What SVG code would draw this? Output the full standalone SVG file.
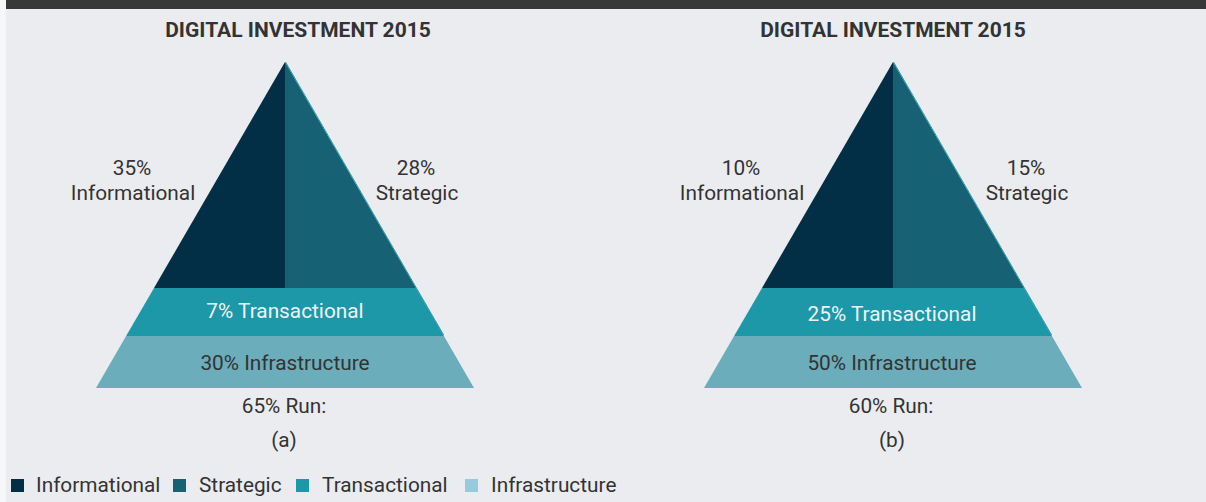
<svg xmlns="http://www.w3.org/2000/svg" width="1206" height="502" viewBox="0 0 1206 502">
  <style>
    text { font-family: Roboto, "Liberation Sans", sans-serif; fill: #333333; }
    .title { font-size: 21px; font-weight: bold; text-anchor: middle; }
    .lbl { font-size: 20.8px; text-anchor: middle; }
    .band { font-size: 20.8px; text-anchor: middle; }
    .light { fill: #eef4f6; }
    .leg { font-size: 20.8px; }
    .info { fill: #022f45; }
    .strat { fill: #166274; }
    .trans { fill: #1c98a8; }
    .infra { fill: #6badba; }
    .infra-key { fill: #95cbdc; }
    .edge { stroke: #1c98a8; stroke-width: 1; fill: none; }
  </style>

  <!-- page background, side strip and header bar -->
  <rect x="0" y="0" width="1206" height="502" fill="#ebecf0"/>
  <rect x="0" y="0" width="6" height="502" fill="#f7f7f9"/>
  <rect x="6" y="0" width="1200" height="9" fill="#383838"/>

  <!-- pyramid (a) -->
  <g id="pyramid-a">
    <text class="title" x="298" y="37">DIGITAL INVESTMENT 2015</text>
    <polygon class="info" points="285,62 285,288 154,288"/>
    <polygon class="strat" points="285,62 416,288 285,288"/>
    <polygon class="trans" points="154,288 416,288 443.9,336 126.1,336"/>
    <polygon class="infra" points="126.1,336 443.9,336 474,388 96,388"/>
    <line class="edge" x1="285.5" y1="62" x2="443.6" y2="335"/>
    <text class="lbl" x="132" y="175">35%</text>
    <text class="lbl" x="133" y="200">Informational</text>
    <text class="lbl" x="416" y="175">28%</text>
    <text class="lbl" x="417" y="200">Strategic</text>
    <text class="band light" x="285" y="318">7% Transactional</text>
    <text class="band" x="285" y="370">30% Infrastructure</text>
    <text class="lbl" x="284" y="413">65% Run:</text>
    <text class="lbl" x="284" y="447">(a)</text>
  </g>

  <!-- pyramid (b) -->
  <g id="pyramid-b">
    <text class="title" x="893" y="37">DIGITAL INVESTMENT 2015</text>
    <polygon class="info" points="893,62 893,288 762,288"/>
    <polygon class="strat" points="893,62 1024,288 893,288"/>
    <polygon class="trans" points="762,288 1024,288 1051.9,336 734.1,336"/>
    <polygon class="infra" points="734.1,336 1051.9,336 1082,388 704,388"/>
    <line class="edge" x1="893.5" y1="62" x2="1051.6" y2="335"/>
    <text class="lbl" x="741" y="175">10%</text>
    <text class="lbl" x="742" y="200">Informational</text>
    <text class="lbl" x="1026" y="175">15%</text>
    <text class="lbl" x="1027" y="200">Strategic</text>
    <text class="band light" x="892" y="321">25% Transactional</text>
    <text class="band" x="892" y="370">50% Infrastructure</text>
    <text class="lbl" x="891" y="413">60% Run:</text>
    <text class="lbl" x="892" y="447">(b)</text>
  </g>

  <!-- legend -->
  <g id="legend">
    <rect class="info" x="11" y="479" width="13" height="13"/>
    <text class="leg" x="36" y="492">Informational</text>
    <rect class="strat" x="173" y="479" width="13" height="13"/>
    <text class="leg" x="199" y="492">Strategic</text>
    <rect class="trans" x="296" y="479" width="13" height="13"/>
    <text class="leg" x="322" y="492">Transactional</text>
    <rect class="infra-key" x="465" y="479" width="13" height="13"/>
    <text class="leg" x="491" y="492">Infrastructure</text>
  </g>
</svg>
